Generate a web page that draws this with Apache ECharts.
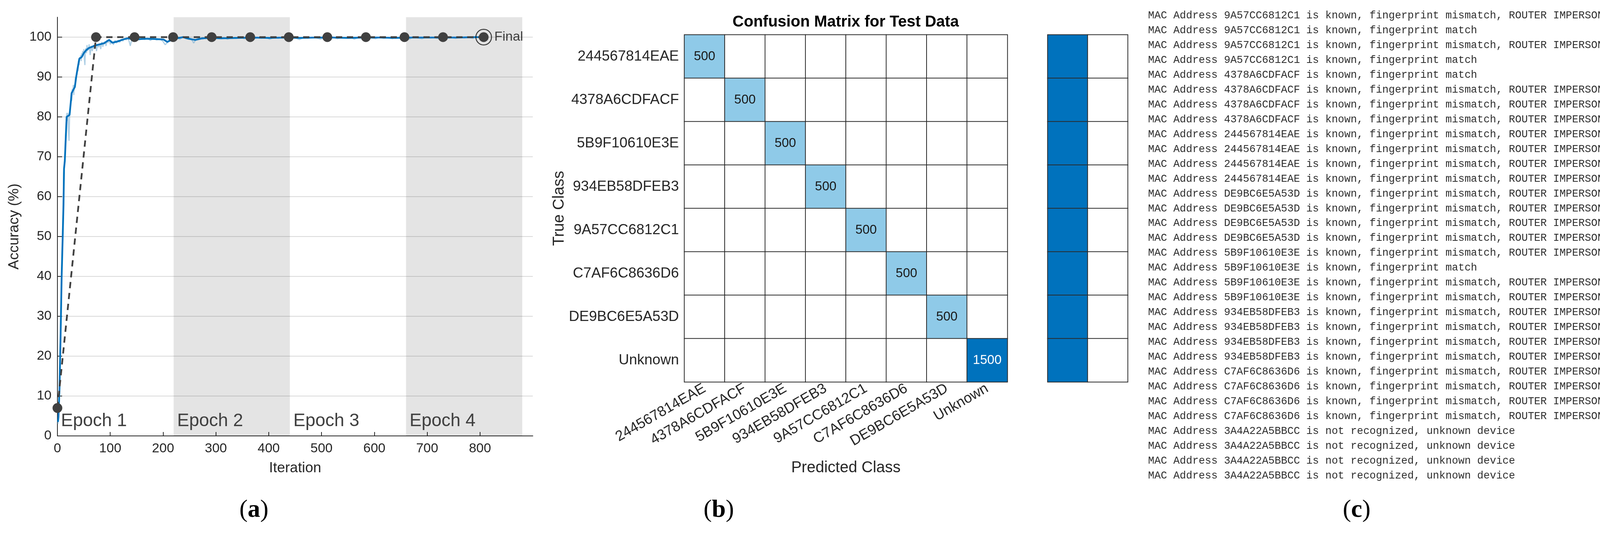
<!DOCTYPE html>
<html><head><meta charset="utf-8">
<script src="https://cdn.jsdelivr.net/npm/echarts/dist/echarts.min.js"></script>
<style>html,body{margin:0;padding:0;background:#fff}#c{width:4339px;height:1371px}</style>
</head><body><div id="c"></div>
<script>
// ---------- Panel (a): training progress ----------
const epochNames = ['Epoch 1', 'Epoch 2', 'Epoch 3', 'Epoch 4'];
const epochEdges = [0, 220, 440, 660, 880];
const iterTicks = [0, 100, 200, 300, 400, 500, 600, 700, 800];
const accTicks = [0, 10, 20, 30, 40, 50, 60, 70, 80, 90, 100];

// raw (unsmoothed) training accuracy [iteration, %]
const rawTraining = [[1,3],[2,6],[3,10],[4,14],[5,20],[6,26],[7,33],[8,40],[9,46],[10,52],[11,57],[12,66],[13,68],[14,70],[15,74],[16,77],[17,80],[18,81],[19,79],[20,81],[21,76],[22,74],[23,80],[24,82],[25,83],[26,86],[27,84],[28,87],[29,86],[30,88],[31,85.5],[32,88],[33,87.5],[34,90],[35,89],[36,91],[37,90.5],[38,92.5],[39,91.5],[40,94],[41,93],[42,95],[43,94.5],[44,95.5],[45,94],[46,96],[47,95.2],[48,96.5],[49,95.5],[50,97],[51,94.5],[52,93],[53,96.8],[54,97.2],[55,96],[56,98],[57,96.5],[58,97.5],[59,96.8],[60,98.2],[62,95.5],[64,97.8],[66,96.5],[68,98],[70,97],[72,98.6],[74,96.5],[76,98.2],[78,97.5],[80,98.4],[82,97],[84,98.8],[86,97.6],[88,98.5],[90,98.9],[92,97.8],[94,99.2],[96,98.6],[98,99.5],[100,98.2],[103,99],[106,98.1],[109,99.2],[112,98.5],[115,99.3],[118,98.7],[121,99.5],[124,99],[127,99.7],[130,99.3],[134,99.8],[138,97.8],[141,99.6],[145,99.2],[150,99.7],[155,99.3],[160,99.8],[165,99.4],[170,99.7],[176,99.2],[182,99.7],[188,99.3],[194,99.6],[200,98.9],[204,98.1],[208,98.6],[212,99.4],[218,99.6],[225,99.9],[232,99.5],[238,100],[244,99.6],[250,99.8],[255,99.2],[258,98.5],[262,99.4],[268,99.8],[275,99.5],[282,99.9],[290,99.7],[298,100],[306,99.6],[314,99.9],[322,99.5],[330,99.9],[338,99.7],[346,100],[354,99.6],[362,99.9],[370,99.4],[378,99.9],[386,99.7],[394,100],[402,99.5],[410,99.9],[418,99.7],[426,100],[434,99.6],[442,99.9],[450,99.8],[458,99.4],[466,99.9],[474,99.7],[482,100],[490,99.8],[498,99.5],[506,99.9],[514,99.7],[522,100],[530,99.6],[538,99.9],[546,99.8],[554,100],[562,99.5],[570,99.9],[578,99.7],[586,100],[594,99.8],[602,99.6],[610,100],[618,99.7],[626,99.9],[634,99.6],[642,100],[650,99.8],[658,99.9],[666,99.5],[674,100],[682,99.8],[690,99.6],[698,100],[706,99.8],[714,99.9],[722,99.6],[730,100],[738,99.8],[746,99.9],[754,99.7],[762,100],[770,99.8],[778,99.9],[786,99.7],[794,100],[802,99.9],[807,100]];

// smoothed training accuracy
const smoothIter = [1,2,4,6,8,10,11.5,12.5,14,17.5,23,27,33,35.5,38,41.5,46,50,55,60,66,71,77,83,89,94,98,104,110,116,124,132,145,155,170,188,201,208,214,221,238,248,261,274,290,310,340,370,400,430,460,490,520,550,580,610,640,670,700,730,760,790,807];
const smoothAcc  = [3.5,4.8,12,25,40,50,58,67,69,80,80.5,86,87.5,90,92,94.6,95,96,96.8,97.3,97.6,97.9,98.1,98.3,98.5,99,99.3,98.6,98.8,99,99.4,99.7,99.5,99.5,99.6,99.5,99.4,98.8,99.2,99.6,100,99.6,99.3,99.7,99.8,99.7,99.8,99.9,99.8,99.9,99.8,99.9,99.9,99.8,99.9,99.9,99.8,99.9,99.9,99.9,99.9,100,100];

// validation accuracy
const valIter = [0, 73, 146, 219, 292, 365, 438, 511, 584, 657, 730, 807];
const valAcc  = [7, 100, 100, 100, 100, 100, 100, 100, 100, 100, 100, 100];
const finalLabel = 'Final';

// ---------- Panel (b): confusion matrix ----------
const classNames = ['244567814EAE','4378A6CDFACF','5B9F10610E3E','934EB58DFEB3','9A57CC6812C1','C7AF6C8636D6','DE9BC6E5A53D','Unknown'];
const confMatrix = [
  [500,0,0,0,0,0,0,0],
  [0,500,0,0,0,0,0,0],
  [0,0,500,0,0,0,0,0],
  [0,0,0,500,0,0,0,0],
  [0,0,0,0,500,0,0,0],
  [0,0,0,0,0,500,0,0],
  [0,0,0,0,0,0,500,0],
  [0,0,0,0,0,0,0,1500]
];
const rowCorrectPct = [100,100,100,100,100,100,100,100];
const rowErrorPct   = [0,0,0,0,0,0,0,0];
const cmTitle = 'Confusion Matrix for Test Data';

// ---------- Panel (c): log ----------
const logLines = [
'MAC Address 9A57CC6812C1 is known, fingerprint mismatch, ROUTER IMPERSONATOR DETECTED',
'MAC Address 9A57CC6812C1 is known, fingerprint match',
'MAC Address 9A57CC6812C1 is known, fingerprint mismatch, ROUTER IMPERSONATOR DETECTED',
'MAC Address 9A57CC6812C1 is known, fingerprint match',
'MAC Address 4378A6CDFACF is known, fingerprint match',
'MAC Address 4378A6CDFACF is known, fingerprint mismatch, ROUTER IMPERSONATOR DETECTED',
'MAC Address 4378A6CDFACF is known, fingerprint mismatch, ROUTER IMPERSONATOR DETECTED',
'MAC Address 4378A6CDFACF is known, fingerprint mismatch, ROUTER IMPERSONATOR DETECTED',
'MAC Address 244567814EAE is known, fingerprint mismatch, ROUTER IMPERSONATOR DETECTED',
'MAC Address 244567814EAE is known, fingerprint mismatch, ROUTER IMPERSONATOR DETECTED',
'MAC Address 244567814EAE is known, fingerprint mismatch, ROUTER IMPERSONATOR DETECTED',
'MAC Address 244567814EAE is known, fingerprint mismatch, ROUTER IMPERSONATOR DETECTED',
'MAC Address DE9BC6E5A53D is known, fingerprint mismatch, ROUTER IMPERSONATOR DETECTED',
'MAC Address DE9BC6E5A53D is known, fingerprint mismatch, ROUTER IMPERSONATOR DETECTED',
'MAC Address DE9BC6E5A53D is known, fingerprint mismatch, ROUTER IMPERSONATOR DETECTED',
'MAC Address DE9BC6E5A53D is known, fingerprint mismatch, ROUTER IMPERSONATOR DETECTED',
'MAC Address 5B9F10610E3E is known, fingerprint mismatch, ROUTER IMPERSONATOR DETECTED',
'MAC Address 5B9F10610E3E is known, fingerprint match',
'MAC Address 5B9F10610E3E is known, fingerprint mismatch, ROUTER IMPERSONATOR DETECTED',
'MAC Address 5B9F10610E3E is known, fingerprint mismatch, ROUTER IMPERSONATOR DETECTED',
'MAC Address 934EB58DFEB3 is known, fingerprint mismatch, ROUTER IMPERSONATOR DETECTED',
'MAC Address 934EB58DFEB3 is known, fingerprint mismatch, ROUTER IMPERSONATOR DETECTED',
'MAC Address 934EB58DFEB3 is known, fingerprint mismatch, ROUTER IMPERSONATOR DETECTED',
'MAC Address 934EB58DFEB3 is known, fingerprint mismatch, ROUTER IMPERSONATOR DETECTED',
'MAC Address C7AF6C8636D6 is known, fingerprint mismatch, ROUTER IMPERSONATOR DETECTED',
'MAC Address C7AF6C8636D6 is known, fingerprint mismatch, ROUTER IMPERSONATOR DETECTED',
'MAC Address C7AF6C8636D6 is known, fingerprint mismatch, ROUTER IMPERSONATOR DETECTED',
'MAC Address C7AF6C8636D6 is known, fingerprint mismatch, ROUTER IMPERSONATOR DETECTED',
'MAC Address 3A4A22A5BBCC is not recognized, unknown device',
'MAC Address 3A4A22A5BBCC is not recognized, unknown device',
'MAC Address 3A4A22A5BBCC is not recognized, unknown device',
'MAC Address 3A4A22A5BBCC is not recognized, unknown device'
];
const panelLabels = ['a', 'b', 'c'];

// ---------- build ----------
const SANS = '"Liberation Sans", Arial, Helvetica, sans-serif';
const TXT = '#262626';
const chart = echarts.init(document.getElementById('c'), null, {renderer: 'canvas', width: 4339, height: 1371});

const markAreaData = epochNames.map((n, i) => [
  {xAxis: epochEdges[i], name: n, itemStyle: {color: i % 2 ? 'rgba(0,0,0,0.105)' : 'rgba(0,0,0,0)'}},
  {xAxis: epochEdges[i + 1]}
]);

function cellColor(v) { return v === 0 ? '#ffffff' : (v >= 1000 ? '#0072BD' : '#8FCAE8'); }
const cmData = [];
confMatrix.forEach((row, r) => row.forEach((v, c) => {
  cmData.push({value: [c, r, v], itemStyle: {color: cellColor(v)},
    label: {color: v >= 1000 ? '#ffffff' : '#1a1a1a'}});
}));
const sumData = [];
rowCorrectPct.forEach((v, r) => {
  sumData.push({value: [0, r, v], itemStyle: {color: v > 0 ? '#0072BD' : '#ffffff'}});
  sumData.push({value: [1, r, rowErrorPct[r]], itemStyle: {color: rowErrorPct[r] > 0 ? '#0072BD' : '#ffffff'}});
});

const LOG_X = 2939, LOG_Y0 = 40, LOG_STEP = 37.95;
const graphics = [
  {type: 'text', style: {x: 2165, y: 57, text: cmTitle, fontFamily: SANS, fontWeight: 'bold', fontSize: 40, fill: '#000', align: 'center', verticalAlign: 'middle'}},
];
[650, 1840, 3473].forEach((x, i) => {
  graphics.push({type: 'text', style: {x: x, y: 1305, text: '{p|(}{b|' + panelLabels[i] + '}{p|)}', align: 'center', verticalAlign: 'middle',
    rich: {p: {fontFamily: '"Liberation Serif", serif', fontSize: 64, fill: '#000'}, b: {fontFamily: '"Liberation Serif", serif', fontWeight: 'bold', fontSize: 64, fill: '#000'}}}});
});
logLines.forEach((t, i) => {
  graphics.push({type: 'text', style: {x: LOG_X, y: LOG_Y0 + i * LOG_STEP, text: t, fontFamily: '"Liberation Mono", "DejaVu Sans Mono", monospace', fontSize: 27, fill: '#2e2e2e', align: 'left', verticalAlign: 'middle'}});
});

const option = {
  animation: false,
  backgroundColor: '#ffffff',
  textStyle: {fontFamily: SANS},
  grid: [
    {left: 147, top: 44, width: 1217, height: 1071},
    {left: 1752, top: 89, width: 827, height: 888},
    {left: 2682, top: 89, width: 205, height: 888}
  ],
  xAxis: [
    {type: 'value', gridIndex: 0, min: 0, max: 900, interval: 100,
     axisLine: {show: true, onZero: false, lineStyle: {color: TXT, width: 2}},
     axisTick: {show: true, inside: true, length: 10, lineStyle: {color: TXT, width: 2}},
     axisLabel: {fontSize: 34, color: TXT, margin: 16, fontFamily: SANS, showMaxLabel: false,
       formatter: v => iterTicks.indexOf(v) >= 0 ? String(v) : ''},
     splitLine: {show: false},
     name: 'Iteration', nameLocation: 'middle', nameGap: 64, nameTextStyle: {fontSize: 37, color: TXT, fontFamily: SANS}},
    {type: 'category', gridIndex: 1, data: classNames,
     axisLine: {show: false}, axisTick: {show: false},
     axisLabel: {rotate: 30, fontSize: 37, color: TXT, margin: 14, fontFamily: SANS, interval: 0},
     splitLine: {show: false},
     name: 'Predicted Class', nameLocation: 'middle', nameGap: 200, nameTextStyle: {fontSize: 40, color: TXT, fontFamily: SANS}},
    {type: 'category', gridIndex: 2, data: ['c', 'e'], show: false}
  ],
  yAxis: [
    {type: 'value', gridIndex: 0, min: 0, max: 105, interval: 10,
     axisLine: {show: true, onZero: false, lineStyle: {color: TXT, width: 2}},
     axisTick: {show: true, inside: true, length: 12, lineStyle: {color: TXT, width: 2}},
     axisLabel: {fontSize: 34, color: TXT, margin: 15, fontFamily: SANS, showMaxLabel: false,
       formatter: v => accTicks.indexOf(v) >= 0 ? String(v) : ''},
     splitLine: {show: true, showMaxLine: false, lineStyle: {color: '#d9d9d9', width: 2}},
     name: 'Accuracy (%)', nameLocation: 'middle', nameGap: 92, nameRotate: 90, nameTextStyle: {fontSize: 37, color: TXT, fontFamily: SANS}},
    {type: 'category', gridIndex: 1, data: classNames, inverse: true,
     axisLine: {show: false}, axisTick: {show: false},
     axisLabel: {fontSize: 37, color: TXT, margin: 14, fontFamily: SANS, interval: 0},
     splitLine: {show: false},
     name: 'True Class', nameLocation: 'middle', nameGap: 300, nameRotate: 90, nameTextStyle: {fontSize: 40, color: TXT, fontFamily: SANS}},
    {type: 'category', gridIndex: 2, data: classNames, inverse: true, show: false}
  ],
  series: [
    {type: 'line', xAxisIndex: 0, yAxisIndex: 0, data: rawTraining, showSymbol: false, z: 2,
     lineStyle: {color: 'rgba(120,175,212,0.6)', width: 3},
     markArea: {silent: true, data: markAreaData,
       label: {show: true, position: 'insideBottomLeft', formatter: '{b}', fontSize: 46, color: '#404040', fontFamily: SANS, offset: [4, -10]}}},
    {type: 'line', xAxisIndex: 0, yAxisIndex: 0, data: smoothIter.map((x, i) => [x, smoothAcc[i]]), showSymbol: false, z: 3,
     lineStyle: {color: '#0072BD', width: 4.5}},
    {type: 'line', xAxisIndex: 0, yAxisIndex: 0, data: valIter.map((x, i) => [x, valAcc[i]]), z: 4,
     symbol: 'circle', symbolSize: 25, showSymbol: true, itemStyle: {color: '#404040'},
     lineStyle: {color: '#404040', width: 4.5, type: [16, 12]}},
    {type: 'scatter', xAxisIndex: 0, yAxisIndex: 0, data: [[valIter[valIter.length - 1], valAcc[valAcc.length - 1]]], z: 5,
     symbol: 'circle', symbolSize: 40, itemStyle: {color: 'rgba(0,0,0,0)', borderColor: '#111', borderWidth: 2.5},
     label: {show: true, position: 'right', distance: 6, formatter: finalLabel, fontSize: 34, color: '#111', fontFamily: SANS}},
    {type: 'heatmap', xAxisIndex: 1, yAxisIndex: 1, data: cmData,
     itemStyle: {borderColor: '#2b2b2b', borderWidth: 2},
     label: {show: true, fontSize: 33, fontFamily: SANS, formatter: p => p.value[2] ? String(p.value[2]) : ''},
     emphasis: {disabled: true}},
    {type: 'heatmap', xAxisIndex: 2, yAxisIndex: 2, data: sumData,
     itemStyle: {borderColor: '#2b2b2b', borderWidth: 2},
     label: {show: false}, emphasis: {disabled: true}}
  ],
  graphic: graphics
};
chart.setOption(option);
</script>
</body></html>
